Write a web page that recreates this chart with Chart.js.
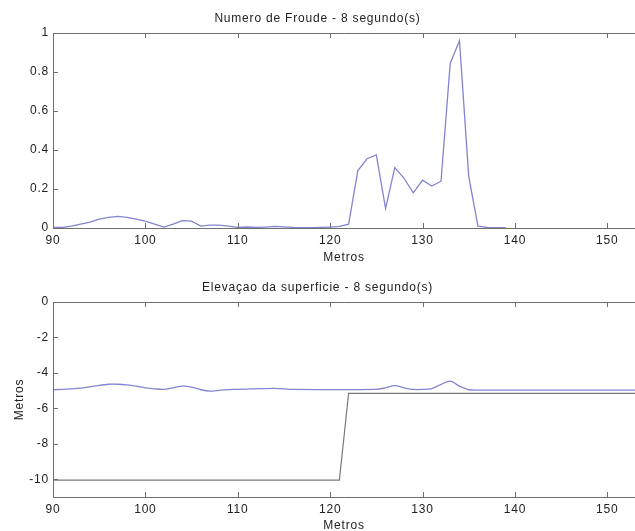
<!DOCTYPE html>
<html lang="pt">
<head>
    <meta charset="UTF-8">
    <script src="https://cdn.jsdelivr.net/npm/chart.js"></script>
    <title>Froude / Elevação</title>
    <style>
    body {
        margin: 0;
        background: #ffffff;
        width: 635px;
        height: 531px;
        overflow: hidden;
        position: relative;
    }
    canvas {
        position: absolute;
        left: 0;
    }
    #froude { top: 0; }
    #elev { top: 265px; }
</style>
</head>
<body>
    <canvas id="froude" width="635" height="265"></canvas>
    <canvas id="elev" width="635" height="266"></canvas>

    <script>
        // distâncias (m)
        const metrosFroude = [90, 91, 92, 93, 94, 95, 96, 97, 98, 99, 100, 101, 102, 103, 104, 105, 106, 107, 108, 109,
            110, 111, 112, 113, 114, 115, 116, 117, 118, 119, 120, 121, 122, 123, 124, 125, 126, 127, 128, 129,
            130, 131, 132, 133, 134, 135, 136, 137, 138, 139];
        const froude = [0.003, 0.003, 0.01, 0.02, 0.03, 0.045, 0.055, 0.06, 0.055, 0.045, 0.035, 0.02, 0.005, 0.02, 0.038, 0.035, 0.01, 0.015, 0.015, 0.01,
            0.003, 0.005, 0.003, 0.005, 0.008, 0.006, 0.003, 0.002, 0.002, 0.003, 0.005, 0.008, 0.02, 0.295, 0.355, 0.375, 0.10, 0.31, 0.255, 0.18,
            0.245, 0.215, 0.24, 0.845, 0.96, 0.265, 0.01, 0.003, 0.002, 0.002];

        const metrosPerfil = [90, 92, 93, 95, 96, 97, 98, 99, 100, 101, 102, 103, 104, 105, 106, 107, 108, 109, 110, 114,
            116, 125, 126, 127, 128, 129, 130, 131, 132, 133, 134, 135, 136, 153];
        const superficie = [-4.95, -4.9, -4.86, -4.7, -4.64, -4.64, -4.68, -4.75, -4.84, -4.9, -4.93, -4.84, -4.75, -4.8, -4.95, -5.03, -4.98, -4.94, -4.93, -4.87,
            -4.93, -4.93, -4.84, -4.72, -4.84, -4.93, -4.93, -4.88, -4.65, -4.46, -4.75, -4.95, -4.97, -4.97];

        const metrosFundo = [90, 121, 122, 153];
        const fundo = [-10.05, -10.05, -5.15, -5.15];

        const xTicks = [90, 100, 110, 120, 130, 140, 150];
        const yTicksFroude = [0, 0.2, 0.4, 0.6, 0.8, 1];
        const yTicksElev = [0, -2, -4, -6, -8, -10];

        Chart.defaults.font.family = '"Liberation Sans", Arial, sans-serif';
        Chart.defaults.font.size = 12;
        Chart.defaults.color = '#222222';

        // texto do MATLAB sai mais espaçado
        const espacamento = {
            id: 'espacamento',
            beforeDraw(chart) { chart.ctx.letterSpacing = '0.8px'; }
        };

        // caixa do eixo + marcas para dentro (estilo MATLAB)
        const caixaMatlab = {
            id: 'caixaMatlab',
            afterDraw(chart) {
                const { ctx, chartArea: a, scales } = chart;
                ctx.save();
                ctx.strokeStyle = '#6e6e6e';
                ctx.lineWidth = 1;
                ctx.beginPath();
                ctx.moveTo(a.right + 1, a.top + 0.5);
                ctx.lineTo(a.left + 0.5, a.top + 0.5);
                ctx.lineTo(a.left + 0.5, a.bottom + 0.5);
                ctx.lineTo(a.right + 1, a.bottom + 0.5);
                const tl = 5;
                scales.x.ticks.forEach(t => {
                    const px = Math.round(scales.x.getPixelForValue(t.value)) + 0.5;
                    ctx.moveTo(px, a.bottom);
                    ctx.lineTo(px, a.bottom - tl);
                    ctx.moveTo(px, a.top);
                    ctx.lineTo(px, a.top + tl);
                });
                scales.y.ticks.forEach(t => {
                    const py = Math.round(scales.y.getPixelForValue(t.value)) + 0.5;
                    ctx.moveTo(a.left, py);
                    ctx.lineTo(a.left + tl, py);
                });
                ctx.stroke();
                ctx.restore();
            }
        };

        function eixoX(altura, espacoBaixo) {
            return {
                type: 'linear',
                min: 90,
                max: 153,
                afterBuildTicks: s => { s.ticks = xTicks.map(v => ({ value: v })); },
                afterFit: s => { s.height = altura; },
                grid: { display: false, drawTicks: false },
                border: { display: false },
                ticks: { padding: 5, maxRotation: 0 },
                title: { display: true, text: 'Metros', padding: { top: 0, bottom: espacoBaixo } }
            };
        }

        function eixoY(min, max, ticks, titulo) {
            return {
                type: 'linear',
                min: min,
                max: max,
                afterBuildTicks: s => { s.ticks = ticks.map(v => ({ value: v })); },
                afterFit: s => { s.width = 53; },
                grid: { display: false, drawTicks: false },
                border: { display: false },
                ticks: { padding: 4, callback: v => String(v) },
                title: { display: titulo, text: 'Metros', padding: { top: 12, bottom: 0 } }
            };
        }

        function pontos(xs, ys) {
            return xs.map((x, i) => ({ x: x, y: ys[i] }));
        }

        new Chart(document.getElementById('froude'), {
            type: 'line',
            data: {
                datasets: [{
                    data: pontos(metrosFroude, froude),
                    borderColor: '#8484d2',
                    borderWidth: 1.3,
                    pointRadius: 0,
                    tension: 0
                }]
            },
            options: {
                responsive: false,
                animation: false,
                layout: { padding: 0 },
                plugins: {
                    legend: { display: false },
                    tooltip: { enabled: false },
                    title: {
                        display: true,
                        text: 'Numero de Froude - 8 segundo(s)',
                        font: { size: 12, weight: 'normal' },
                        padding: { top: 11, bottom: 7.6 }
                    }
                },
                scales: {
                    x: eixoX(37, 0),
                    y: eixoY(0, 1, yTicksFroude, false)
                }
            },
            plugins: [espacamento, caixaMatlab]
        });

        new Chart(document.getElementById('elev'), {
            type: 'line',
            data: {
                datasets: [{
                    data: pontos(metrosPerfil, superficie),
                    borderColor: '#8484d2',
                    borderWidth: 1.3,
                    pointRadius: 0,
                    tension: 0.3
                }, {
                    data: pontos(metrosFundo, fundo),
                    borderColor: '#7a7a7a',
                    borderWidth: 1.2,
                    pointRadius: 0,
                    tension: 0
                }]
            },
            options: {
                responsive: false,
                animation: false,
                layout: { padding: 0 },
                plugins: {
                    legend: { display: false },
                    tooltip: { enabled: false },
                    title: {
                        display: true,
                        text: 'Elevaçao da superficie - 8 segundo(s)',
                        font: { size: 12, weight: 'normal' },
                        padding: { top: 15.8, bottom: 6.8 }
                    }
                },
                scales: {
                    x: eixoX(34, -2),
                    y: eixoY(-11, 0, yTicksElev, true)
                }
            },
            plugins: [espacamento, caixaMatlab]
        });
    </script>
</body>
</html>
